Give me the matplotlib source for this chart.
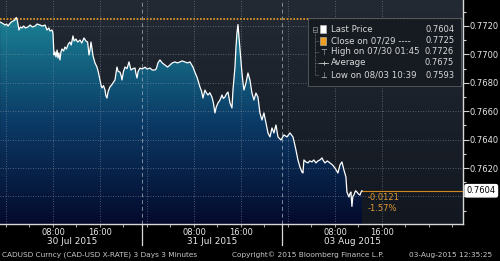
import numpy as np
import matplotlib.pyplot as plt
import matplotlib.transforms as mtransforms
from matplotlib.colors import LinearSegmentedColormap
from matplotlib.patches import Polygon, Rectangle
from matplotlib.ticker import FixedLocator, MultipleLocator, FuncFormatter

# trading hours since 30 Jul 2015 00:00 (weekend removed), CADUSD 3-minute closes
hours = [-1.00, -0.7, -0.4, -0.17, 0.1, 0.34, 0.6, 0.9, 1.19, 1.5, 1.75, 1.95, 2.21, 2.45,
         2.72, 3.0, 3.3, 3.74, 4.1, 4.5, 4.94, 5.3, 5.79, 6.2, 6.64, 6.98, 7.3, 7.49, 7.83, 8.0,
         8.17, 8.34, 8.51, 8.7, 8.85, 9.0, 9.19, 9.35, 9.53, 9.8, 10.04, 10.3, 10.6, 10.89,
         11.1, 11.4, 11.6, 11.91, 12.2, 12.6, 12.9, 13.28, 13.62, 13.9,
         14.13, 14.3, 14.47, 14.65, 14.81, 15.15, 15.49, 15.75, 16.0,
         16.2, 16.34, 16.6, 16.85, 17.0, 17.19, 17.4, 17.7, 18.0, 18.21, 18.55, 18.7, 18.89,
         19.1, 19.4, 19.6, 19.74, 20.0, 20.26, 20.6, 20.94, 21.1, 21.28, 21.6, 21.96, 22.1,
         22.3, 22.5, 22.81, 23.2, 23.66, 24.0, 24.51, 24.9, 25.36, 25.6, 25.87, 26.21, 26.6,
         27.06, 27.5, 27.91, 28.3, 28.77, 29.2, 29.62, 30.0, 30.47, 30.9, 31.32, 31.83, 32.2,
         32.51, 32.8, 33.02, 33.3, 33.53, 33.87, 34.1, 34.38, 34.7, 35.06, 35.3, 35.57, 35.8,
         36.09, 36.43, 36.77, 37.0, 37.28, 37.5, 37.79, 38.13, 38.47, 38.64, 38.98, 39.15,
         39.32, 39.49, 39.65, 39.83, 40.0, 40.17, 40.35, 40.51, 40.85, 41.19, 41.53, 41.87,
         42.21, 42.55, 42.89, 43.23, 43.57, 43.91, 44.26, 44.6, 44.94, 45.28, 45.62, 45.96,
         46.3, 46.81, 47.32, 47.83, 48.34, 48.85, 49.1, 49.36, 49.7, 50.04, 50.38, 50.55,
         50.72, 51.05, 51.4, 51.7, 52.09, 52.4, 52.77, 53.1, 53.45, 53.79, 54.05, 54.3, 54.7,
         55.15, 55.6, 56.0, 56.51, 56.85, 57.19, 57.53, 57.87, 58.04, 58.38, 58.55, 58.72,
         58.89, 59.05, 59.23, 59.5, 59.74, 60.0, 60.26, 60.45, 60.6]
price = [0.77228, 0.77221, 0.77214, 0.77207, 0.77214, 0.77200, 0.77214, 0.77228, 0.77235,
         0.77242, 0.77260, 0.77235, 0.77172, 0.77193, 0.77186, 0.77200, 0.77186, 0.77193,
         0.77207, 0.77193, 0.77200, 0.77214, 0.77207, 0.77200, 0.77207, 0.77172, 0.77186,
         0.77165, 0.77172, 0.77150,
         0.76996, 0.77017, 0.76982, 0.77031, 0.76975, 0.77010, 0.76961, 0.77017, 0.77038,
         0.77024, 0.77052, 0.77038, 0.77073, 0.77087, 0.77066, 0.77130, 0.77094, 0.77108,
         0.77087, 0.77101, 0.77080, 0.77116, 0.77094, 0.77087,
         0.76996, 0.77031, 0.77087, 0.77040, 0.76990, 0.76940, 0.76911, 0.76870, 0.76820,
         0.76780, 0.76764, 0.76780, 0.76750, 0.76710, 0.76693, 0.76740, 0.76771, 0.76785,
         0.76799, 0.76820, 0.76860, 0.76911,
         0.76880, 0.76876, 0.76850, 0.76820, 0.76880, 0.76911, 0.76900, 0.76947, 0.76920,
         0.76890, 0.76900, 0.76904, 0.76870, 0.76834, 0.76880, 0.76904, 0.76897, 0.76910,
         0.76897, 0.76904, 0.76890, 0.76890, 0.76900, 0.76940, 0.76961, 0.76940, 0.76925,
         0.76911, 0.76925, 0.76940, 0.76947, 0.76940, 0.76947, 0.76954, 0.76947, 0.76940,
         0.76947, 0.76911, 0.76870, 0.76841, 0.76800, 0.76771, 0.76740, 0.76693, 0.76749,
         0.76730, 0.76714, 0.76730, 0.76700, 0.76660, 0.76588, 0.76630, 0.76658, 0.76679,
         0.76714, 0.76690, 0.76700, 0.76720, 0.76735, 0.76658, 0.76623, 0.76749, 0.76911,
         0.77050, 0.77151, 0.77210, 0.77130, 0.77031, 0.76950, 0.76869, 0.76800, 0.76749,
         0.76799, 0.76869, 0.76820, 0.76728, 0.76679, 0.76728, 0.76700, 0.76588, 0.76538,
         0.76588, 0.76517, 0.76447, 0.76419, 0.76482, 0.76447, 0.76503, 0.76419, 0.76397,
         0.76433, 0.76419, 0.76447, 0.76419, 0.76376, 0.76327, 0.76257, 0.76207, 0.76172,
         0.76165, 0.76257, 0.76243, 0.76236, 0.76250, 0.76243, 0.76257, 0.76236, 0.76250,
         0.76257, 0.76271, 0.76250, 0.76236, 0.76250, 0.76236, 0.76221, 0.76200, 0.76165,
         0.76221, 0.76243, 0.76186, 0.76137, 0.76031, 0.75996, 0.76020, 0.76031, 0.75930,
         0.76000, 0.76010, 0.76040, 0.76031, 0.76017, 0.76010, 0.76031, 0.76040]

prev_close = 0.7725
last_price = 0.7604
legend_names = ['Last Price', 'Close on 07/29 ----', 'High on 07/30 01:45', 'Average',
                'Low on 08/03 10:39']
legend_values = ['0.7604', '0.7725', '0.7726', '0.7675', '0.7593']
hour_labels = {8: '08:00', 16: '16:00', 32: '08:00', 40: '16:00', 56: '08:00', 64: '16:00'}
day_labels = ['30 Jul 2015', '31 Jul 2015', '03 Aug 2015']
day_label_pos = [11.2, 35.1, 58.9]
day_breaks = [23.1, 47.0]

xmin, xmax = -1.02, 77.8
ymin, ymax = 0.75806, 0.77383

fig = plt.figure(figsize=(5, 2.61), dpi=100, facecolor='black')
ax = fig.add_axes([0, 0.1418, 0.926, 0.8582])
ax.set_xlim(xmin, xmax)
ax.set_ylim(ymin, ymax)

# dark background gradient
bg = LinearSegmentedColormap.from_list('bg', ['#121720', '#232a33'])
ax.imshow(np.linspace(0, 1, 256).reshape(-1, 1), aspect='auto', cmap=bg, origin='lower',
          extent=[xmin, xmax, ymin, ymax], zorder=0)

# gradient area under the price
area = LinearSegmentedColormap.from_list('area', ['#040a2c', '#0b3a66', '#1a7f93'])
im = ax.imshow(np.linspace(0, 1, 256).reshape(-1, 1), aspect='auto', cmap=area, origin='lower',
               extent=[xmin, xmax, ymin, 0.7724], zorder=1)
verts = [(hours[0], ymin)] + list(zip(hours, price)) + [(hours[-1], ymin)]
poly = Polygon(verts, closed=True, facecolor='none', edgecolor='none')
ax.add_patch(poly)
im.set_clip_path(poly)

ax.plot(hours, price, color='white', lw=0.9, zorder=4)

# grid
for v in np.arange(0.7600, 0.7721, 0.002):
    ax.axhline(v, color='#8a96a4', lw=0.6, ls=(0, (1, 2)), alpha=0.7, zorder=2)
for h in [0, 8, 16, 24, 32, 40, 48, 56, 64]:
    ax.axvline(h, color='#8a96a4', lw=0.6, ls=(0, (1, 2)), alpha=0.7, zorder=2)
for h in day_breaks:
    ax.axvline(h, color='#9aa6b4', lw=0.7, ls=(0, (4, 3)), alpha=0.8, zorder=2)

ax.axhline(prev_close, color='#f0a028', lw=1.2, ls=(0, (1, 1)), zorder=3)
ax.plot([hours[-1], xmax], [last_price, last_price], color='#d08a20', lw=0.8, zorder=3)
ax.text(61.6, 0.75996, '-0.0121', color='#e09a30', fontsize=6, va='center', zorder=6)
ax.text(61.6, 0.75912, '-1.57%', color='#e09a30', fontsize=6, va='center', zorder=6)

# axes styling
for s in ['top', 'left']:
    ax.spines[s].set_visible(False)
for s in ['right', 'bottom']:
    ax.spines[s].set_color('#d8d8d8')
    ax.spines[s].set_linewidth(1.0)
ax.yaxis.tick_right()
ax.yaxis.set_major_locator(FixedLocator(np.arange(0.7600, 0.7721, 0.002)))
ax.yaxis.set_minor_locator(MultipleLocator(0.001))
# 0.7600 label sits under the last-price tag
ax.yaxis.set_major_formatter(FuncFormatter(lambda v, p: '' if v < 0.7610 else '%.4f' % v))
ax.tick_params(axis='y', which='major', colors='#d0d0d0', labelcolor='#e8e8e8',
               labelsize=6, length=4, width=0.8, pad=1)
ax.tick_params(axis='y', which='minor', colors='#d0d0d0', length=2.5, width=0.8)

ax.xaxis.set_major_locator(FixedLocator(list(hour_labels.keys())))
ax.xaxis.set_minor_locator(FixedLocator([h for h in range(0, 77, 4) if h not in hour_labels]))
ax.xaxis.set_major_formatter(FuncFormatter(lambda v, p: hour_labels.get(int(round(v)), '')))
ax.tick_params(axis='x', which='major', colors='#a0a0a0', labelcolor='#e8e8e8',
               labelsize=6, length=2.5, width=0.8, pad=0.5)
ax.tick_params(axis='x', which='minor', colors='#a0a0a0', length=2.5, width=0.8)

trans = mtransforms.blended_transform_factory(ax.transData, ax.transAxes)
for h in day_breaks:
    ax.plot([h, h], [0, -0.095], transform=trans, color='#d8d8d8', lw=0.9, clip_on=False)
for name, h in zip(day_labels, day_label_pos):
    ax.text(h, -0.080, name, transform=trans, ha='center', va='center',
            fontsize=6.4, color='#e8e8e8')

# last price tag
ax.text(1.008, last_price, '0.7604', transform=mtransforms.blended_transform_factory(
    ax.transAxes, ax.transData), fontsize=6, color='black', va='center', ha='left',
    bbox=dict(boxstyle='round,pad=0.2', fc='white', ec='white'), clip_on=False, zorder=10)

# legend panel
ax.add_patch(Rectangle((0.665, 0.616), 0.330, 0.304, transform=ax.transAxes,
                       facecolor='#161b22', edgecolor='#5a6068', lw=0.6, alpha=0.95, zorder=7))
rows = [0.8705, 0.817, 0.768, 0.719, 0.665]
ax.plot([0.680, 0.680], [0.855, rows[-1]], transform=ax.transAxes, color='#8a9099',
        lw=0.5, ls=(0, (1, 1)), zorder=8)
for r in rows[1:]:
    ax.plot([0.680, 0.689], [r, r], transform=ax.transAxes, color='#8a9099', lw=0.5,
            ls=(0, (1, 1)), zorder=8)
ax.add_patch(Rectangle((0.675, 0.857), 0.010, 0.022, transform=ax.transAxes,
                       facecolor='none', edgecolor='#8a9099', lw=0.5, zorder=8))
ax.plot([0.677, 0.683], [0.868, 0.868], transform=ax.transAxes, color='#8a9099', lw=0.5, zorder=8)
ax.add_patch(Rectangle((0.691, rows[0] - 0.016), 0.014, 0.032, transform=ax.transAxes,
                       facecolor='white', edgecolor='#c0c0c0', lw=0.4, zorder=8))
ax.add_patch(Rectangle((0.691, rows[1] - 0.016), 0.014, 0.032, transform=ax.transAxes,
                       facecolor='#f0a020', edgecolor='#c0c0c0', lw=0.4, zorder=8))
ax.text(0.698, rows[2], '\u22a4', transform=ax.transAxes, fontsize=5.5, color='#c8c8c8',
        ha='center', va='center', zorder=8)
ax.plot([0.690, 0.708], [rows[3], rows[3]], transform=ax.transAxes, color='#c8c8c8',
        lw=0.6, zorder=8)
ax.plot([0.699], [rows[3]], transform=ax.transAxes, marker='+', ms=3, color='#c8c8c8',
        mew=0.6, zorder=8)
ax.text(0.698, rows[4], '\u22a5', transform=ax.transAxes, fontsize=5.5, color='#c8c8c8',
        ha='center', va='center', zorder=8)
for r, name, val in zip(rows, legend_names, legend_values):
    ax.text(0.714, r, name, transform=ax.transAxes, fontsize=6.2, color='#d8d8d8',
            va='center', ha='left', zorder=9)
    ax.text(0.981, r, val, transform=ax.transAxes, fontsize=6, color='#d8d8d8',
            va='center', ha='right', zorder=9)

# footer
fig.text(0.004, 0.023, 'CADUSD Curncy (CAD-USD X-RATE) 3 Days 3 Minutes', fontsize=5.3,
         color='#c8c8c8', va='center')
fig.text(0.464, 0.023, 'Copyright\u00a9 2015 Bloomberg Finance L.P.', fontsize=5.3,
         color='#c8c8c8', va='center')
fig.text(0.984, 0.023, '03-Aug-2015 12:35:25', fontsize=5.3, color='#c8c8c8',
         va='center', ha='right')

fig.savefig('out.png', dpi=100, facecolor='black')
